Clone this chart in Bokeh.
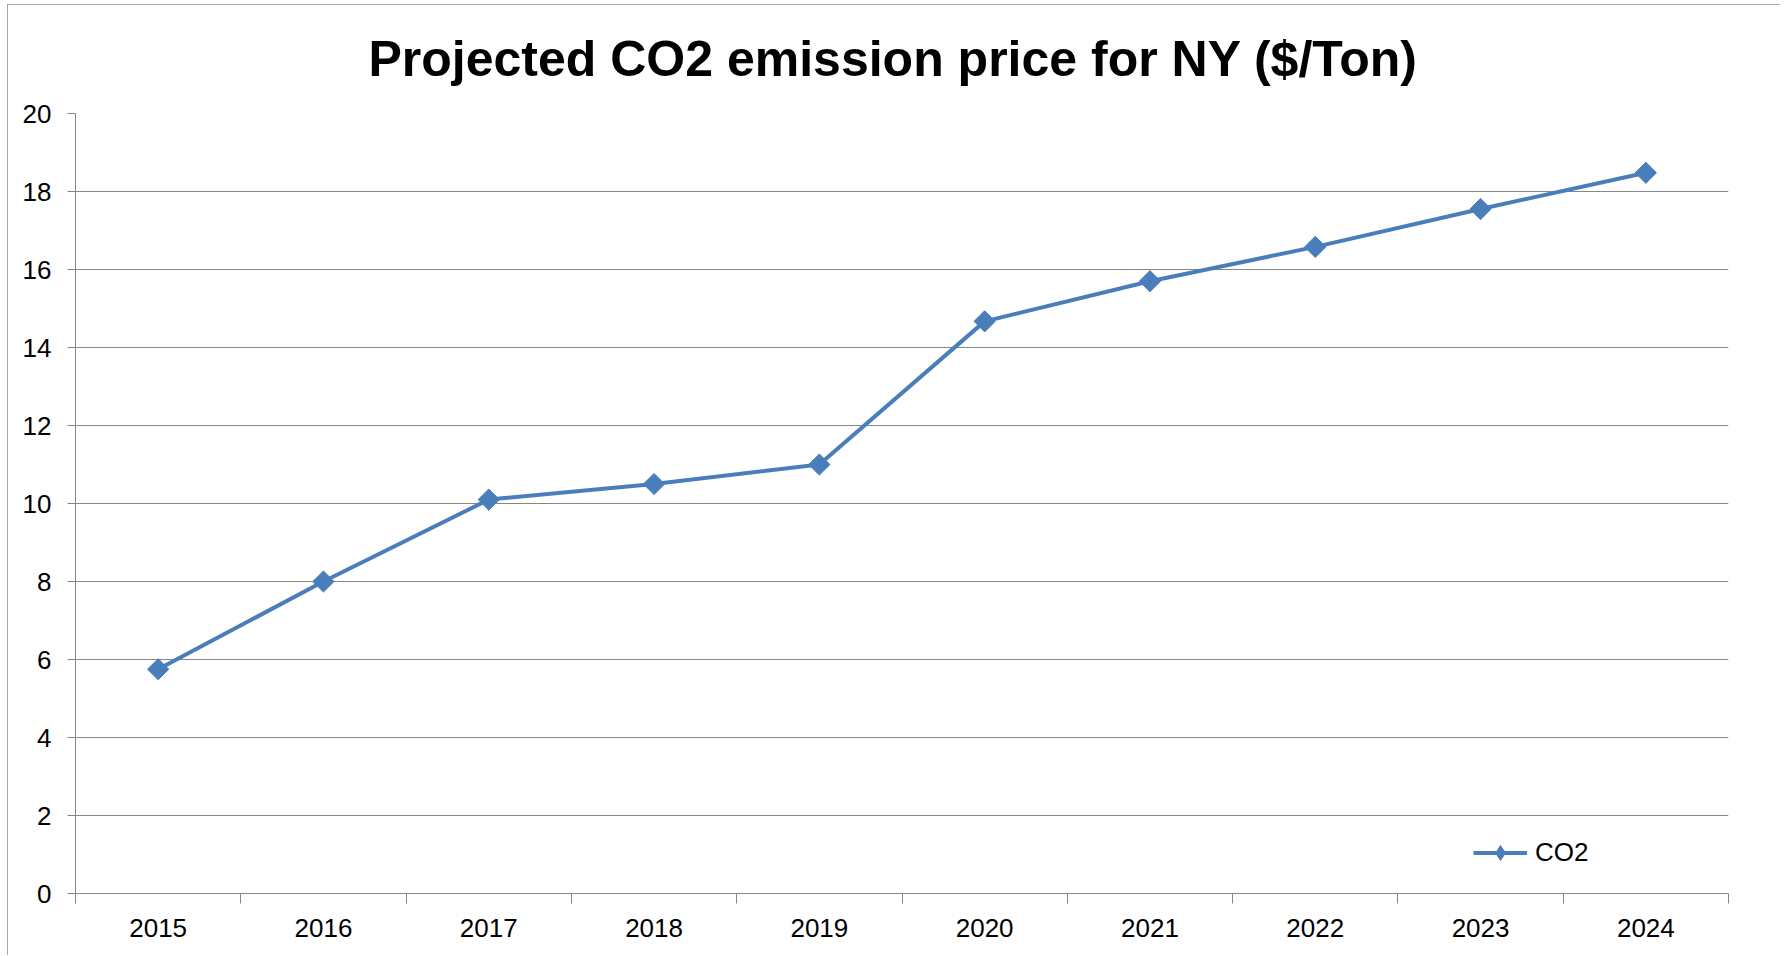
import math
from bokeh.plotting import figure
from bokeh.models import Range1d, FixedTicker, Legend, LegendItem, Title
from bokeh.embed import file_html
from bokeh.resources import INLINE

years = ["2015", "2016", "2017", "2018", "2019", "2020", "2021", "2022", "2023", "2024"]
co2 = [5.75, 8.0, 10.1, 10.5, 11.0, 14.67, 15.7, 16.58, 17.55, 18.48]
y_ticks = [0, 2, 4, 6, 8, 10, 12, 14, 16, 18, 20]
title_text = "Projected CO2 emission price for NY ($/Ton)"
series_name = "CO2"

BLUE = "#4a7ebb"
GREY = "#868686"
FONT = "Liberation Sans"

xs = [i + 0.5 for i in range(len(years))]

p = figure(width=1773, height=951, output_backend="svg", toolbar_location=None,
           x_range=Range1d(0, len(years)), y_range=Range1d(0, 20),
           min_border_left=68, min_border_right=52, min_border_top=109, min_border_bottom=62)
p.styles = {"margin-left": "7px", "margin-top": "4px",
            "outline": "3px solid #8c8c8c", "outline-offset": "-3px"}
p.outline_line_color = None
p.background_fill_color = "white"
p.border_fill_color = "white"

t = Title(text=title_text, align="left", offset=293, vertical_align="middle",
          text_font=FONT, text_font_size="50px", text_font_style="bold",
          text_color="black", standoff=51)
p.add_layout(t, "above")

line = p.line(xs, co2, line_color=BLUE, line_width=4)
pts = p.scatter(xs, co2, marker="square", size=15, angle=math.pi / 4,
                fill_color=BLUE, line_color=BLUE)
legend_marker = p.scatter(xs, co2, marker="diamond", size=0,
                          fill_color=BLUE, line_color=BLUE)

# x axis
xa = p.xaxis[0]
xa.ticker = FixedTicker(ticks=xs, minor_ticks=list(range(len(years) + 1)))
xa.major_label_overrides = {x: y for x, y in zip(xs, years)}
xa.major_tick_out = 0
xa.major_tick_in = 0
xa.minor_tick_out = 10
xa.minor_tick_in = 0
xa.minor_tick_line_color = GREY
xa.axis_line_color = GREY
xa.major_label_text_font = FONT
xa.major_label_text_font_size = "26px"
xa.major_label_text_color = "black"
xa.major_label_standoff = 15

# y axis
ya = p.yaxis[0]
ya.ticker = FixedTicker(ticks=y_ticks)
ya.major_tick_out = 8
ya.major_tick_in = 0
ya.minor_tick_line_color = None
ya.major_tick_line_color = GREY
ya.axis_line_color = GREY
ya.major_label_text_font = FONT
ya.major_label_text_font_size = "26px"
ya.major_label_text_color = "black"
ya.major_label_standoff = 16

p.xgrid.grid_line_color = None
p.ygrid.grid_line_color = GREY
p.ygrid.ticker = FixedTicker(ticks=y_ticks)

legend = Legend(items=[LegendItem(label=series_name, renderers=[line, legend_marker])],
                location=(1398, 22), orientation="vertical",
                background_fill_alpha=0, border_line_color=None,
                label_text_font=FONT, label_text_font_size="26px", label_text_color="black",
                glyph_width=54, glyph_height=37, label_height=37, label_standoff=8,
                padding=0, margin=0, spacing=0)
p.add_layout(legend, "center")

open("out.html", "w").write(file_html(p, INLINE))
